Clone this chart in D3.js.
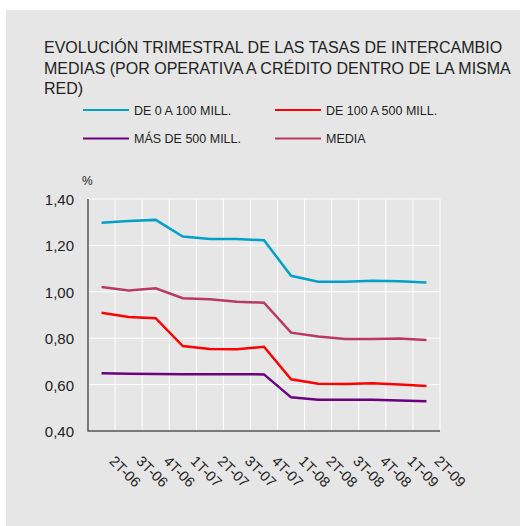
<!DOCTYPE html>
<html>
<head>
<meta charset="utf-8">
<script src="https://cdn.jsdelivr.net/npm/d3@7"></script>
<style>
  body { margin: 0; background: #fff; }
  text { font-family: "Liberation Sans", Arial, sans-serif; fill: #222; }
</style>
</head>
<body>
<script>
// Quarters on the x axis
var quarters = ["2T-06", "3T-06", "4T-06", "1T-07", "2T-07", "3T-07", "4T-07",
                "1T-08", "2T-08", "3T-08", "4T-08", "1T-09", "2T-09"];

// Series values (%)
var de0a100   = [1.298, 1.305, 1.310, 1.238, 1.228, 1.228, 1.222, 1.069, 1.043, 1.043, 1.048, 1.046, 1.040];
var de100a500 = [0.910, 0.891, 0.886, 0.766, 0.753, 0.752, 0.763, 0.623, 0.604, 0.603, 0.606, 0.600, 0.594];
var mas500    = [0.649, 0.647, 0.646, 0.645, 0.645, 0.645, 0.644, 0.545, 0.535, 0.535, 0.535, 0.532, 0.528];
var media     = [1.021, 1.006, 1.015, 0.972, 0.968, 0.957, 0.953, 0.824, 0.807, 0.797, 0.797, 0.799, 0.792];

var yTicks = [0.40, 0.60, 0.80, 1.00, 1.20, 1.40];

var series = [
  {name: "DE 0 A 100 MILL.",   values: de0a100,   color: "#00a0c8"},
  {name: "DE 100 A 500 MILL.", values: de100a500, color: "#ff0000"},
  {name: "MÁS DE 500 MILL.",   values: mas500,    color: "#6b007e"},
  {name: "MEDIA",              values: media,     color: "#b83a62"}
];

var width = 520, height = 526;
var plot = {left: 88, top: 199, right: 440, bottom: 431};

var svg = d3.select("body").append("svg")
    .attr("width", width)
    .attr("height", height);

// grey panel
svg.append("rect")
    .attr("x", 6).attr("y", 10)
    .attr("width", width - 6).attr("height", height - 10)
    .attr("fill", "#e6e6e6");

// title
var titleLines = ["EVOLUCIÓN TRIMESTRAL DE LAS TASAS DE INTERCAMBIO",
                  "MEDIAS (POR OPERATIVA A CRÉDITO DENTRO DE LA MISMA",
                  "RED)"];
svg.append("g").selectAll("text")
    .data(titleLines)
  .enter().append("text")
    .attr("x", 44)
    .attr("y", (d, i) => 53 + i * 20.5)
    .style("font-size", "16px")
    .text(d => d);

// legend
var legend = svg.append("g").selectAll("g")
    .data(series)
  .enter().append("g")
    .attr("transform", (d, i) => "translate(" + (i % 2 ? 275 : 83) + "," + (i < 2 ? 110 : 138.5) + ")");

legend.append("line")
    .attr("x1", 0).attr("x2", 46)
    .attr("stroke", d => d.color)
    .attr("stroke-width", 2);

legend.append("text")
    .attr("x", 51)
    .attr("y", 4.5)
    .style("font-size", "12.5px")
    .text(d => d.name);

// scales
var x = d3.scaleBand()
    .domain(quarters)
    .range([plot.left, plot.right]);

var y = d3.scaleLinear()
    .domain([0.4, 1.4])
    .range([plot.bottom, plot.top]);

// grid
svg.append("g").selectAll("line")
    .data(yTicks.slice(1))
  .enter().append("line")
    .attr("x1", plot.left).attr("x2", plot.right)
    .attr("y1", d => y(d)).attr("y2", d => y(d))
    .attr("stroke", "#fff")
    .attr("stroke-width", 1);

svg.append("g").selectAll("line")
    .data(quarters)
  .enter().append("line")
    .attr("x1", d => x(d) + x.bandwidth()).attr("x2", d => x(d) + x.bandwidth())
    .attr("y1", plot.top).attr("y2", plot.bottom)
    .attr("stroke", "#fff")
    .attr("stroke-width", 1);

// axes
var yAxis = svg.append("g")
    .attr("transform", "translate(" + plot.left + ",0)")
    .call(d3.axisLeft(y).tickValues(yTicks).tickSize(0).tickPadding(14)
      .tickFormat(d => d3.format(".2f")(d).replace(".", ",")));
yAxis.select(".domain").remove();
yAxis.selectAll("text").style("font-size", "15px").attr("dy", "0.36em");

var xAxis = svg.append("g")
    .attr("transform", "translate(0," + plot.bottom + ")")
    .call(d3.axisBottom(x).tickSize(0).tickPadding(0));
xAxis.select(".domain").remove();
xAxis.selectAll("text")
    .style("font-size", "14.5px")
    .attr("text-anchor", "start")
    .attr("y", 0)
    .attr("dy", 0)
    .attr("transform", "translate(7,31) rotate(45)");

svg.append("path")
    .attr("d", "M" + plot.left + "," + plot.top + "V" + plot.bottom + "H" + plot.right)
    .attr("fill", "none")
    .attr("stroke", "#555")
    .attr("stroke-width", 1.5);

svg.append("text")
    .attr("x", 82).attr("y", 185)
    .style("font-size", "12px")
    .text("%");

// lines
var line = d3.line()
    .x((d, i) => x(quarters[i]) + x.bandwidth() / 2)
    .y(d => y(d));

svg.append("g").selectAll("path")
    .data(series)
  .enter().append("path")
    .attr("d", d => line(d.values))
    .attr("fill", "none")
    .attr("stroke", d => d.color)
    .attr("stroke-width", 2.5);
</script>
</body>
</html>
